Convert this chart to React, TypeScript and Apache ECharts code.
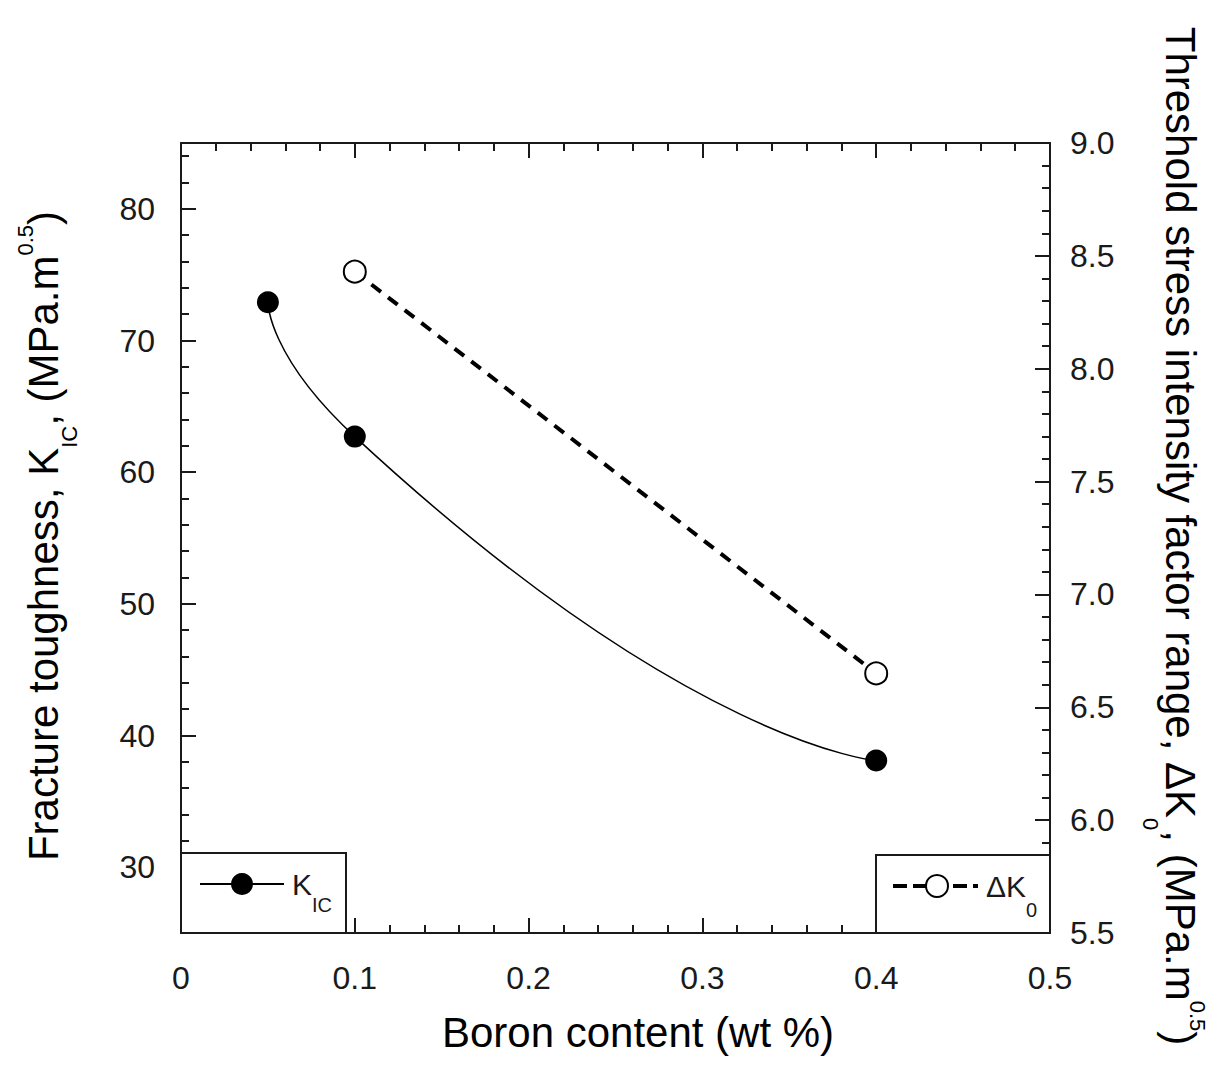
import React, { useEffect, useRef } from "react";
import * as echarts from "echarts";

const boronKic = [0.05, 0.1, 0.4];
const kicValues = [72.9, 62.7, 38.1];
const boronDk = [0.1, 0.4];
const dkValues = [8.43, 6.65];

const FONT = "'Liberation Sans', Arial, sans-serif";
const INK = "#1a1a1a";

export default function App() {
  const ref = useRef<HTMLDivElement>(null);
  useEffect(() => {
    if (!ref.current) return;
    const chart = echarts.init(ref.current, null, { renderer: "svg" });
    const axisLine = { show: true, onZero: false, lineStyle: { color: INK, width: 2 } };
    const tickMajor = { show: true, inside: true, length: 15, lineStyle: { color: INK, width: 2 } };
    const tickMinor = { show: true, length: 8, splitNumber: 5, lineStyle: { color: INK, width: 2 } };
    const label = { color: INK, fontSize: 32, fontFamily: FONT };
    const xBase = {
      type: "value",
      min: 0,
      max: 0.5,
      interval: 0.1,
      axisLine,
      axisTick: tickMajor,
      minorTick: tickMinor,
      splitLine: { show: false },
      minorSplitLine: { show: false },
    };
    const titleRich = (L: number, p: number) => ({
      m: { fontSize: 42, lineHeight: L, verticalAlign: "middle", fontFamily: FONT, fill: "#000" },
      sub: { fontSize: 22, verticalAlign: "bottom", fontFamily: FONT, fill: "#000" },
      sup: { fontSize: 22, verticalAlign: "top", padding: [p, 0, 0, 0], fontFamily: FONT, fill: "#000" },
    });
    const legRich = (L: number) => ({
      m: { fontSize: 30, lineHeight: L, verticalAlign: "middle", fontFamily: FONT, fill: INK },
      sub: { fontSize: 20, lineHeight: 20, verticalAlign: "bottom", fontFamily: FONT, fill: INK },
    });
    chart.setOption({
      animation: false,
      backgroundColor: "#fff",
      grid: { left: 181, right: 176, top: 143, bottom: 133, containLabel: false },
      xAxis: [
        { ...xBase, position: "bottom", axisLabel: { ...label, margin: 29 } },
        { ...xBase, position: "top", axisLabel: { show: false } },
      ],
      yAxis: [
        {
          type: "value",
          position: "left",
          min: 25,
          max: 85,
          splitNumber: 6,
          axisLine,
          axisTick: tickMajor,
          axisLabel: { ...label, margin: 26, showMinLabel: false, showMaxLabel: false },
          splitLine: { show: false },
        },
        {
          type: "value",
          position: "right",
          min: 5.5,
          max: 9.0,
          interval: 0.5,
          axisLine,
          axisTick: tickMajor,
          minorTick: tickMinor,
          axisLabel: { ...label, margin: 20, formatter: (v: number) => v.toFixed(1) },
          splitLine: { show: false },
          minorSplitLine: { show: false },
        },
        {
          type: "value",
          position: "left",
          min: 25,
          max: 85,
          splitNumber: 30,
          axisLine: { show: false, onZero: false },
          axisTick: { show: true, inside: false, length: -8, lineStyle: { color: INK, width: 2 } },
          axisLabel: { show: false },
          splitLine: { show: false },
        },
      ],
      series: [
        {
          type: "line",
          xAxisIndex: 0,
          yAxisIndex: 0,
          data: boronKic.map((x, i) => [x, kicValues[i]]),
          smooth: 0.85,
          symbol: "circle",
          symbolSize: 22,
          itemStyle: { color: "#000" },
          lineStyle: { color: "#000", width: 1.5 },
          z: 3,
        },
        {
          type: "line",
          xAxisIndex: 0,
          yAxisIndex: 1,
          data: boronDk.map((x, i) => [x, dkValues[i]]),
          symbol: "circle",
          symbolSize: 22,
          itemStyle: { color: "#fff", borderColor: "#000", borderWidth: 2 },
          lineStyle: { color: "#000", width: 4, type: [12, 9] },
          z: 3,
        },
      ],
      graphic: [
        {
          type: "text",
          x: 43,
          y: 536,
          rotation: Math.PI / 2,
          z: 100,
          style: {
            text: "{m|Fracture toughness, K}{sub|IC}{m|, (MPa.m}{sup|0.5}{m|)}",
            rich: titleRich(75, 9),
            textAlign: "center",
            textVerticalAlign: "middle",
            font: `42px ${FONT}`,
          },
        },
        {
          type: "text",
          x: 1180,
          y: 536,
          rotation: -Math.PI / 2,
          z: 100,
          style: {
            text: "{m|Threshold stress intensity factor range, ΔK}{sub|0}{m|, (MPa.m}{sup|0.5}{m|)}",
            rich: titleRich(81, 12),
            textAlign: "center",
            textVerticalAlign: "middle",
            font: `42px ${FONT}`,
          },
        },
        {
          type: "text",
          x: 638,
          y: 1032,
          z: 100,
          style: {
            text: "Boron content (wt %)",
            fill: "#000",
            font: `42px ${FONT}`,
            textAlign: "center",
            textVerticalAlign: "middle",
          },
        },
        {
          type: "rect",
          z: 100,
          shape: { x: 181, y: 853, width: 165, height: 80 },
          style: { fill: "#fff", stroke: INK, lineWidth: 2 },
        },
        {
          type: "line",
          z: 101,
          shape: { x1: 200, y1: 884, x2: 284, y2: 884 },
          style: { stroke: "#000", lineWidth: 2 },
        },
        {
          type: "circle",
          z: 102,
          shape: { cx: 242, cy: 884, r: 11 },
          style: { fill: "#000" },
        },
        {
          type: "text",
          x: 292,
          y: 884,
          z: 102,
          style: {
            text: "{m|K}{sub|IC}",
            rich: legRich(62),
            textAlign: "left",
            textVerticalAlign: "middle",
            font: `30px ${FONT}`,
          },
        },
        {
          type: "rect",
          z: 100,
          shape: { x: 876, y: 855, width: 174, height: 78 },
          style: { fill: "#fff", stroke: INK, lineWidth: 2 },
        },
        {
          type: "line",
          z: 101,
          shape: { x1: 893, y1: 886, x2: 978, y2: 886 },
          style: { stroke: "#000", lineWidth: 4, lineDash: [14, 6] },
        },
        {
          type: "circle",
          z: 102,
          shape: { cx: 937, cy: 886, r: 11 },
          style: { fill: "#fff", stroke: "#000", lineWidth: 2 },
        },
        {
          type: "text",
          x: 986,
          y: 886,
          z: 102,
          style: {
            text: "{m|ΔK}{sub|0}",
            rich: legRich(67),
            textAlign: "left",
            textVerticalAlign: "middle",
            font: `30px ${FONT}`,
          },
        },
      ],
    });
    return () => chart.dispose();
  }, []);
  return (
    <div
      ref={ref}
      style={{ position: "fixed", left: 0, top: 0, width: 1226, height: 1066, background: "#fff" }}
    />
  );
}
